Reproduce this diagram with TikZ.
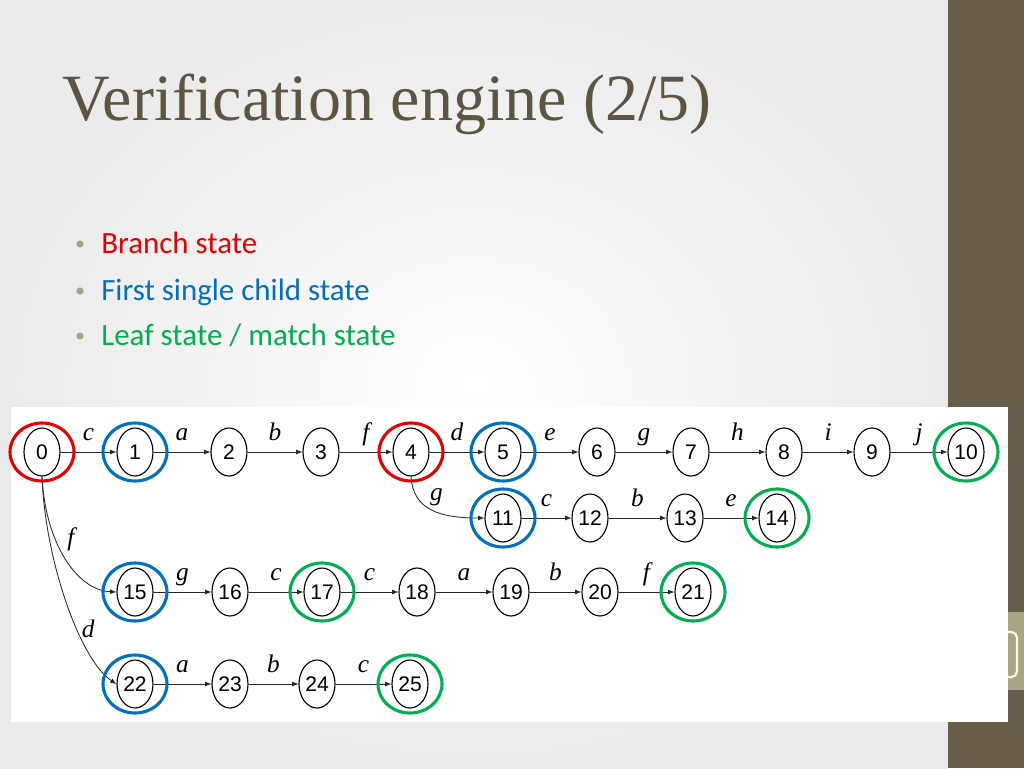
\documentclass[tikz,border=0pt]{standalone}
\usepackage{fontspec}
\usetikzlibrary{shapes.geometric,arrows.meta}
\newfontfamily\titlefont{Liberation Serif}
\newfontfamily\bodyfont{Carlito}
\newfontfamily\numfont{Liberation Sans}
\newfontfamily\lblfont{Liberation Serif}
\definecolor{olive}{RGB}{102,94,72}
\definecolor{oliveLight}{RGB}{170,165,137}
\definecolor{titlecol}{RGB}{94,85,64}
\definecolor{bulletcol}{RGB}{169,165,138}
\definecolor{stRed}{RGB}{230,0,0}
\definecolor{stBlue}{RGB}{0,112,192}
\definecolor{stGreen}{RGB}{0,176,80}
\tikzset{
  stnode/.style = {ellipse, draw, line width=0.8pt, inner sep=0pt, minimum width=9mm, minimum height=12mm, fill=white, font=\numfont\fontsize{15}{15}\selectfont},
  trans/.style = {line width=0.6pt, black!85, -{Latex[length=4.5pt,width=3.5pt]}},
  lbl/.style = {font=\lblfont\itshape\fontsize{18}{18}\selectfont, anchor=base, yshift=8pt, inner sep=0pt, text=black},
  clbl/.style = {font=\lblfont\itshape\fontsize{18}{18}\selectfont, inner sep=0pt, text=black},
  ring/.style = {line width=2.2pt}
}
\begin{document}
\begin{tikzpicture}[x=0.25mm, y=-0.25mm]
\useasboundingbox (0,0) rectangle (1024,768);
% slide background
\shade[inner color=white, outer color=black!8] (0,0) rectangle (948,768);
\fill[olive] (948,0) rectangle (1024,768);
\fill[oliveLight] (948,612) rectangle (1024,690);
\draw[white!85!yellow, line width=1.5pt, rounded corners=4pt] (962,632) rectangle (1017,677);
\fill[white] (11,407) rectangle (1008,722);

\node[anchor=base west, inner sep=0pt, font=\titlefont\fontsize{47}{47}\selectfont, text=titlecol] (title) at (62,120) {Verification engine (2/5)};

\foreach \t/\c/\y [count=\i] in {{Branch state}/stRed/253, {First single child state}/stBlue/300, {Leaf state / match state}/stGreen/345}{
   \fill[bulletcol] (80,\y-9) circle [radius=0.9mm];
   \node[anchor=base west, inner sep=0pt, font=\bodyfont\fontsize{22}{22}\selectfont, text=\c] (item\i) at (101,\y) {\t};
   }

% states
\foreach \n/\x in {0/42,1/135,2/229,3/321,4/411,5/503,6/597,7/691,8/784,9/872,10/966}
   \node[stnode] (s\n) at (\x,452) {\n};
\foreach \n/\x in {11/503,12/590,13/685,14/777}
   \node[stnode] (s\n) at (\x,518) {\n};
\foreach \n/\x in {15/135,16/230,17/322,18/417,19/511,20/600,21/693}
   \node[stnode] (s\n) at (\x,592) {\n};
\foreach \n/\x in {22/135,23/230,24/317,25/410}
   \node[stnode] (s\n) at (\x,684) {\n};

% transitions
\foreach \a/\b/\l in {0/1/c,1/2/a,2/3/b,3/4/f,4/5/d,5/6/e,6/7/g,7/8/h,8/9/i,9/10/j,
   11/12/c,12/13/b,13/14/e,15/16/g,16/17/c,17/18/c,18/19/a,19/20/b,20/21/f,
   22/23/a,23/24/b,24/25/c}
   \draw[trans] (s\a) -- node[lbl] {\l} (s\b);

\draw[trans] (s0.south) .. controls (45,540) and (75,590) .. node[clbl, pos=0.37, right=8pt] {f} (s15.west);
\draw[trans] (s0.south) .. controls (45,560) and (80,660) .. node[clbl, pos=0.62, right=3pt] {d} (s22.west);
\draw[trans] (s4.south) .. controls (413,510) and (440,518) .. node[clbl, pos=0.45, above right=1pt] {g} (s11.west);

% marked states
\foreach \n in {0,4}
   \draw[ring, stRed] (s\n) ellipse [x radius=8mm, y radius=7.25mm];
\foreach \n in {1,5,11,15,22}
   \draw[ring, stBlue] (s\n) ellipse [x radius=8mm, y radius=7.25mm];
\foreach \n in {10,14,17,21,25}
   \draw[ring, stGreen] (s\n) ellipse [x radius=8mm, y radius=7.25mm];
\end{tikzpicture}
\end{document}
